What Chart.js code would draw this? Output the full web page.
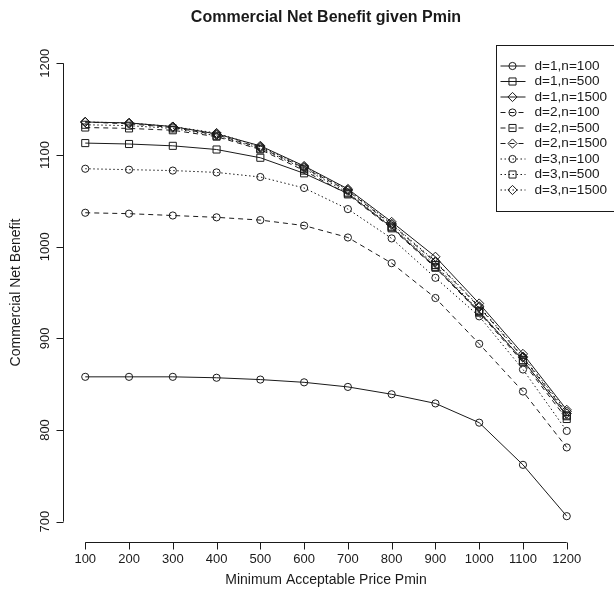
<!DOCTYPE html>
<html>
<head>
<meta charset="utf-8">
<script src="https://cdn.jsdelivr.net/npm/chart.js"></script>
<style>
  html, body { margin: 0; padding: 0; background: #fff; }
  canvas { display: block; }
</style>
</head>
<body>
<canvas id="chart" width="614" height="593"></canvas>
<script>
// minimum acceptable price (x) and net benefit per scenario (y)
const pmin = [100, 200, 300, 400, 500, 600, 700, 800, 900, 1000, 1100, 1200];
const d1n100 = [858, 858, 858, 857, 855, 852, 847, 839, 829, 808, 762, 706];
const d1n500 = [1113, 1112, 1110, 1106, 1097, 1080, 1058, 1021, 978, 929, 876, 816];
const d1n1500 = [1136, 1135, 1131, 1123, 1110, 1088, 1063, 1027, 989, 938, 883, 822];
const d2n100 = [1037, 1036, 1034, 1032, 1029, 1023, 1010, 982, 944, 894, 842, 781];
const d2n500 = [1130, 1129, 1127, 1120, 1106, 1083, 1057, 1020, 977, 928, 874, 812];
const d2n1500 = [1136, 1134, 1130, 1122, 1108, 1086, 1061, 1024, 983, 934, 879, 818];
const d3n100 = [1085, 1084, 1083, 1081, 1076, 1064, 1041, 1009, 966, 924, 866, 799];
const d3n500 = [1133, 1132, 1129, 1121, 1107, 1085, 1059, 1022, 980, 930, 876, 815];
const d3n1500 = [1136, 1135, 1131, 1124, 1109, 1087, 1062, 1025, 984, 935, 880, 820];

const xTicks = [100, 200, 300, 400, 500, 600, 700, 800, 900, 1000, 1100, 1200];
const yTicks = [700, 800, 900, 1000, 1100, 1200];

const ink = "#1a1a1a";
const font = "'Liberation Sans', Arial, Helvetica, sans-serif";

const dashes = { 1: [], 2: [5, 4], 3: [1.5, 2.5] };
const shapes = { 100: "circle", 500: "rect", 1500: "rectRot" };
const radii = { circle: 3.6, rect: 5, rectRot: 4.6 };

const series = [
  { d: 1, n: 100, values: d1n100 },
  { d: 1, n: 500, values: d1n500 },
  { d: 1, n: 1500, values: d1n1500 },
  { d: 2, n: 100, values: d2n100 },
  { d: 2, n: 500, values: d2n500 },
  { d: 2, n: 1500, values: d2n1500 },
  { d: 3, n: 100, values: d3n100 },
  { d: 3, n: 500, values: d3n500 },
  { d: 3, n: 1500, values: d3n1500 },
];

const datasets = series.map((s) => ({
  label: "d=" + s.d + ",n=" + s.n,
  data: s.values.map((v, i) => ({ x: pmin[i], y: v })),
  borderColor: ink,
  borderWidth: 1,
  borderDash: dashes[s.d],
  pointStyle: shapes[s.n],
  pointRadius: radii[shapes[s.n]],
  pointBorderColor: ink,
  pointBorderWidth: 1,
  pointBackgroundColor: "rgba(0,0,0,0)",
  tension: 0,
  fill: false,
  clip: false,
}));

function marker(ctx, shape, x, y) {
  const r = radii[shape];
  ctx.setLineDash([]);
  ctx.beginPath();
  if (shape === "circle") {
    ctx.arc(x, y, r, 0, Math.PI * 2);
  } else if (shape === "rect") {
    const h = r * Math.SQRT1_2;
    ctx.rect(x - h, y - h, 2 * h, 2 * h);
  } else {
    ctx.moveTo(x - r, y);
    ctx.lineTo(x, y - r);
    ctx.lineTo(x + r, y);
    ctx.lineTo(x, y + r);
    ctx.closePath();
  }
  ctx.stroke();
}

// R style axes, titles and legend
const baseGraphics = {
  id: "baseGraphics",
  afterDraw(chart) {
    const ctx = chart.ctx;
    const xs = chart.scales.x;
    const ys = chart.scales.y;
    const area = chart.chartArea;
    ctx.save();
    ctx.strokeStyle = ink;
    ctx.fillStyle = ink;
    ctx.lineWidth = 1;
    ctx.setLineDash([]);

    // x axis
    const xa = Math.round(area.bottom + 2) + 0.5;
    ctx.beginPath();
    ctx.moveTo(xs.getPixelForValue(xTicks[0]), xa);
    ctx.lineTo(xs.getPixelForValue(xTicks[xTicks.length - 1]), xa);
    xTicks.forEach((t) => {
      const px = Math.round(xs.getPixelForValue(t)) + 0.5;
      ctx.moveTo(px, xa);
      ctx.lineTo(px, xa + 7);
    });
    ctx.stroke();
    ctx.font = "13px " + font;
    ctx.textAlign = "center";
    ctx.textBaseline = "middle";
    xTicks.forEach((t) => ctx.fillText(String(t), xs.getPixelForValue(t), xa + 17));

    // y axis
    const ya = Math.round(area.left - 3) + 0.5;
    ctx.beginPath();
    ctx.moveTo(ya, ys.getPixelForValue(yTicks[0]));
    ctx.lineTo(ya, ys.getPixelForValue(yTicks[yTicks.length - 1]));
    yTicks.forEach((t) => {
      const py = Math.round(ys.getPixelForValue(t)) + 0.5;
      ctx.moveTo(ya, py);
      ctx.lineTo(ya - 7, py);
    });
    ctx.stroke();
    yTicks.forEach((t) => {
      ctx.save();
      ctx.translate(ya - 18, ys.getPixelForValue(t));
      ctx.rotate(-Math.PI / 2);
      ctx.fillText(String(t), 0, 0);
      ctx.restore();
    });

    // titles
    ctx.font = "14px " + font;
    ctx.fillText("Minimum Acceptable Price Pmin", (area.left + area.right) / 2, 580);
    ctx.save();
    ctx.translate(16, (area.top + area.bottom) / 2);
    ctx.rotate(-Math.PI / 2);
    ctx.fillText("Commercial Net Benefit", 0, 0);
    ctx.restore();
    ctx.font = "bold 16px " + font;
    ctx.fillText("Commercial Net Benefit given Pmin", (area.left + area.right) / 2, 18);

    // legend, wider than the canvas so its right side is cut off
    const lx = 496.5;
    const ly = Math.round(area.top) + 0.5;
    ctx.fillStyle = "#fff";
    ctx.fillRect(lx, ly, 140, 166);
    ctx.fillStyle = ink;
    ctx.strokeRect(lx, ly, 140, 166);
    ctx.font = "13.6px " + font;
    ctx.textAlign = "left";
    series.forEach((s, i) => {
      const y = ly + 20.5 + i * 15.5;
      ctx.setLineDash(dashes[s.d]);
      ctx.beginPath();
      ctx.moveTo(lx + 4, y);
      ctx.lineTo(lx + 29, y);
      ctx.stroke();
      marker(ctx, shapes[s.n], lx + 16, y);
      ctx.fillText("d=" + s.d + ",n=" + s.n, lx + 38, y);
    });
    ctx.restore();
  },
};

new Chart(document.getElementById("chart"), {
  type: "line",
  data: { datasets: datasets },
  options: {
    responsive: false,
    animation: false,
    layout: { padding: { left: 66, right: 28, top: 45, bottom: 53 } },
    scales: {
      x: { type: "linear", min: 56, max: 1244, display: false },
      y: { type: "linear", min: 680, max: 1220, display: false },
    },
    plugins: {
      legend: { display: false },
      tooltip: { enabled: false },
    },
  },
  plugins: [baseGraphics],
});
</script>
</body>
</html>
